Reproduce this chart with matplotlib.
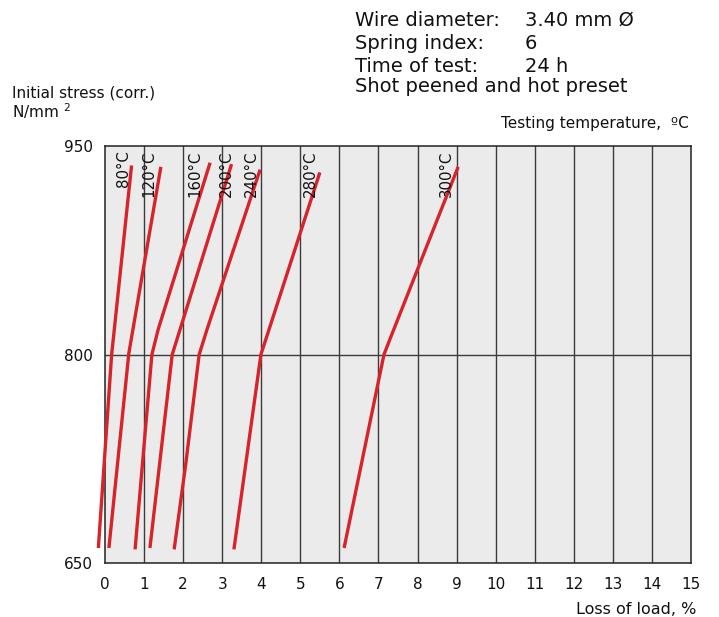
import matplotlib
matplotlib.use("Agg")
import matplotlib.pyplot as plt

# ---- data (loss of load %, initial stress N/mm2) ----
temps = ["80°C", "120°C", "160°C", "200°C", "240°C", "280°C", "300°C"]
loss_80 = [-0.17, 0.17, 0.68]
stress_80 = [661, 800, 936]
loss_120 = [0.10, 0.61, 1.43]
stress_120 = [661, 801, 935]
loss_160 = [0.77, 1.20, 1.36, 2.69]
stress_160 = [660, 800, 818, 938]
loss_200 = [1.15, 1.72, 1.92, 3.24]
stress_200 = [661, 800, 818, 937]
loss_240 = [1.77, 2.07, 2.41, 2.61, 3.97]
stress_240 = [660, 722, 800, 818, 933]
loss_280 = [3.30, 3.99, 5.50]
stress_280 = [660, 800, 931]
loss_300 = [6.12, 7.14, 7.32, 9.04]
stress_300 = [661, 800, 813, 935]

x_ticks = list(range(0, 16))
y_ticks = [650, 800, 950]

info_labels = ["Wire diameter:", "Spring index:", "Time of test:"]
info_values = ["3.40 mm Ø", "6", "24 h"]
info_note = "Shot peened and hot preset"

# label anchor positions (x in data units) for the temperature labels
label_x = [0.47, 1.11, 2.29, 3.11, 3.74, 5.25, 8.75]

curves = [(loss_80, stress_80), (loss_120, stress_120), (loss_160, stress_160),
          (loss_200, stress_200), (loss_240, stress_240), (loss_280, stress_280),
          (loss_300, stress_300)]

plt.rcParams['font.family'] = ['DejaVu Sans']

fig = plt.figure(figsize=(7.19, 6.17), dpi=100)
ax = fig.add_axes([105 / 719, 1 - 563.3 / 617, 586 / 719, (563.3 - 146) / 617])
ax.set_facecolor('#ebebec')
ax.set_xlim(0, 15)
ax.set_ylim(650, 950)

for xv in x_ticks[1:-1]:
    ax.axvline(xv, color='#3c3c3c', lw=1.0, zorder=1)
ax.axhline(800, color='#3c3c3c', lw=1.0, zorder=1)

red = '#d8232a'
for (lx, ly) in curves:
    ax.plot(lx, ly, color=red, lw=2.4, solid_capstyle='butt',
            solid_joinstyle='round', zorder=3, clip_on=False)

for t, xv in zip(temps, label_x):
    ax.text(xv, 947, t, rotation=90, ha='center', va='top', fontsize=10.8,
            color='#111111', zorder=4)

ax.set_xticks(x_ticks)
ax.set_yticks(y_ticks)
ax.tick_params(axis='both', length=0, labelsize=11, colors='#111111')
ax.tick_params(axis='x', pad=10)
ax.tick_params(axis='y', pad=8.5)
for s in ax.spines.values():
    s.set_color('#222222')
    s.set_linewidth(1.1)

# header texts
rows_y = [1 - 26 / 617, 1 - 49.3 / 617, 1 - 71.7 / 617]
for lab, val, yy in zip(info_labels, info_values, rows_y):
    fig.text(355 / 719, yy, lab, fontsize=14, va='baseline', ha='left', color='#111111')
    fig.text(525 / 719, yy, val, fontsize=14, va='baseline', ha='left', color='#111111')
fig.text(355 / 719, 1 - 91.7 / 617, info_note, fontsize=14, va='baseline', ha='left',
         color='#111111')

fig.text(11.7 / 719, 1 - 97.3 / 617, "Initial stress (corr.)", fontsize=11,
         va='baseline', ha='left', color='#111111')
fig.text(11.7 / 719, 1 - 117.7 / 617, "N/mm $^{2}$", fontsize=11,
         va='baseline', ha='left', color='#111111')
fig.text(689 / 719, 1 - 128.3 / 617, "Testing temperature,  ºC", fontsize=11,
         va='baseline', ha='right', color='#111111')
fig.text(696.7 / 719, 1 - 614 / 617, "Loss of load, %", fontsize=11.5,
         va='baseline', ha='right', color='#111111')

fig.savefig("out.png", dpi=100, facecolor='white')
